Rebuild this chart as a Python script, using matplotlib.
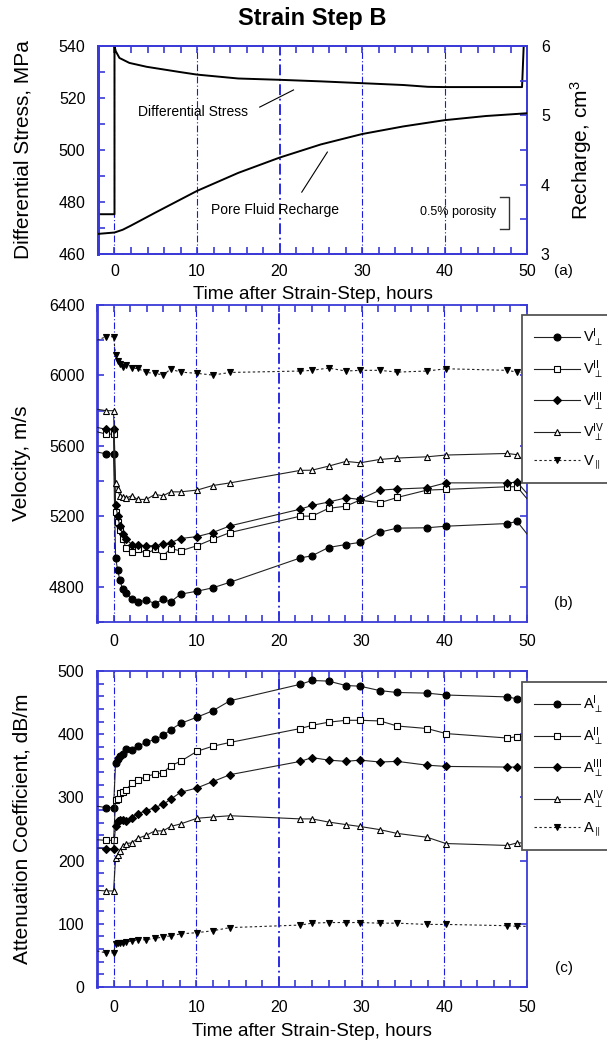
import matplotlib
matplotlib.use("Agg")
import matplotlib.pyplot as plt
from matplotlib.ticker import MultipleLocator, FixedLocator

plt.rcParams['font.family'] = ['Liberation Sans', 'DejaVu Sans']
plt.rcParams['mathtext.fontset'] = 'custom'
plt.rcParams['mathtext.rm'] = 'Liberation Sans'
plt.rcParams['mathtext.it'] = 'Liberation Sans:italic'
plt.rcParams['mathtext.sf'] = 'Liberation Sans'
plt.rcParams['mathtext.fallback'] = 'stixsans'

# ---------------- data ----------------
# (a) loading record
stress_hours = [-2, 0, 0, 0.15, 0.6, 1.8, 3.9, 7.9, 10, 15, 20, 25, 30, 35, 38, 40, 45, 49.4, 49.6]
stress_mpa = [475.3, 475.3, 540, 538, 535.4, 533.5, 532, 530, 529, 527.5, 527, 526.4,
              525.7, 525, 524.3, 524.2, 524.2, 524.2, 540]
recharge_hours = [-2, 0, 1, 2, 5, 10, 15, 20, 25, 30, 35, 40, 45, 50]
recharge_cm3 = [3.29, 3.31, 3.35, 3.41, 3.60, 3.91, 4.17, 4.39, 4.58, 4.73, 4.84, 4.93, 4.99, 5.03]

# sampling times for the ultrasonic measurements (first/last entries reach the frame edges)
hours = [-2, -0.9, 0, 0.25, 0.5, 0.75, 1.1, 1.5, 2.2, 2.9, 3.95, 5, 6, 6.9, 8.1, 10.1, 12,
         14.1, 22.6, 24, 26, 28.1, 29.8, 32.2, 34.3, 37.9, 40.2, 47.6, 48.8, 50]

# (b) velocities, m/s
v_perp_1 = [5565, 5555, 5555, 4964, 4894, 4841, 4785, 4762, 4730, 4712, 4724, 4705, 4728, 4714,
            4758, 4775, 4794, 4826, 4964, 4976, 5023, 5040, 5052, 5110, 5133, 5135, 5144, 5159,
            5171, 5100]
v_perp_2 = [5680, 5667, 5667, 5226, 5165, 5125, 5074, 5021, 4995, 5012, 4989, 5012, 4976, 5017,
            5004, 5033, 5070, 5108, 5201, 5201, 5245, 5258, 5292, 5277, 5307, 5349, 5353, 5368,
            5368, 5300]
v_perp_3 = [5705, 5694, 5694, 5264, 5203, 5144, 5097, 5072, 5040, 5036, 5033, 5033, 5042, 5050,
            5074, 5085, 5108, 5146, 5241, 5262, 5281, 5305, 5296, 5349, 5355, 5362, 5390, 5390,
            5394, 5330]
v_perp_4 = [5808, 5800, 5800, 5387, 5353, 5317, 5307, 5303, 5317, 5296, 5296, 5324, 5317, 5339,
            5339, 5349, 5375, 5390, 5461, 5462, 5485, 5512, 5504, 5523, 5531, 5538, 5548, 5557,
            5550, 5500]
v_par = [6200, 6220, 6220, 6116, 6082, 6065, 6046, 6059, 6040, 6040, 6017, 6012, 6002, 6036,
         6019, 6012, 6002, 6017, 6025, 6029, 6042, 6025, 6029, 6029, 6019, 6025, 6038, 6029,
         6019, 6015]

# (c) attenuation coefficients, dB/m
a_perp_1 = [286, 284, 284, 355, 361, 365, 368, 376, 375, 381, 387, 392, 398, 407, 417, 427, 437,
            453, 479, 485, 484, 477, 476, 469, 466, 465, 462, 459, 456, 455]
a_perp_2 = [233, 232, 232, 296, 297, 307, 309, 312, 322, 327, 333, 337, 339, 350, 357, 373, 381,
            387, 409, 414, 419, 422, 422, 421, 413, 409, 401, 394, 396, 396]
a_perp_3 = [220, 219, 219, 254, 262, 264, 265, 263, 268, 274, 279, 284, 289, 297, 308, 315, 325,
            336, 357, 363, 359, 357, 359, 356, 357, 351, 349, 348, 348, 348]
a_perp_4 = [153, 152, 152, 204, 209, 215, 223, 227, 228, 235, 240, 247, 247, 254, 258, 267, 269,
            271, 266, 266, 261, 257, 254, 249, 243, 237, 227, 224, 228, 228]
a_par = [57, 54, 54, 68, 69, 70, 70, 71, 73, 74, 75, 77, 79, 81, 84, 86, 89, 94, 98, 101, 102,
         102, 102, 101, 101, 99, 99, 97, 96, 96]

x_ticks = [0, 10, 20, 30, 40, 50]
guide_hours = [0, 10, 20, 30, 40]

v_labels = [r'$\mathregular{V}_{\perp}^{\mathregular{I}}$',
            r'$\mathregular{V}_{\perp}^{\mathregular{II}}$',
            r'$\mathregular{V}_{\perp}^{\mathregular{III}}$',
            r'$\mathregular{V}_{\perp}^{\mathregular{IV}}$',
            r'$\mathregular{V}_{\parallel}$']
a_labels = [r'$\mathregular{A}_{\perp}^{\mathregular{I}}$',
            r'$\mathregular{A}_{\perp}^{\mathregular{II}}$',
            r'$\mathregular{A}_{\perp}^{\mathregular{III}}$',
            r'$\mathregular{A}_{\perp}^{\mathregular{IV}}$',
            r'$\mathregular{A}_{\parallel}$']

# ---------------- styling ----------------
FRAME = '#3a3ad8'
GUIDE = '#1a1ae0'
W, H = 607, 1053

fig = plt.figure(figsize=(W / 100, H / 100), dpi=100)


def box(left, top, right, bottom):
    return [left / W, 1 - bottom / H, (right - left) / W, (bottom - top) / H]


def frame_style(ax, xpad):
    for s in ax.spines.values():
        s.set_color(FRAME)
        s.set_linewidth(1.3)
    ax.spines['left'].set_linewidth(2.0)
    ax.set_xlim(-2, 50)
    ax.xaxis.set_major_locator(FixedLocator(x_ticks))
    ax.xaxis.set_minor_locator(MultipleLocator(2))
    ax.tick_params(axis='both', which='both', direction='in', color=FRAME,
                   top=True, labelsize=11.5, width=1.2, length=5)
    ax.tick_params(axis='x', pad=xpad)
    ax.tick_params(axis='y', pad=9)
    for h in guide_hours:
        ax.axvline(h, color=GUIDE, lw=1.3 if h == 20 else 0.8,
                   ls=(0, (6, 2, 1, 2)), zorder=1)


# ---------------- (a) ----------------
ax_a = fig.add_axes(box(98, 46, 527, 254))
frame_style(ax_a, 7)
ax_a.tick_params(axis='y', right=False)
ax_a.set_ylim(460, 540)
ax_a.yaxis.set_major_locator(MultipleLocator(20))
ax_a.yaxis.set_minor_locator(MultipleLocator(10))
ax_a.plot(stress_hours, stress_mpa, color='black', lw=1.4, zorder=3)
ax_a.set_ylabel('Differential Stress, MPa', fontsize=15, va='center')
ax_a.yaxis.set_label_coords(-0.175, 0.5)
ax_a.set_xlabel('Time after Strain-Step, hours', fontsize=13.5, va='top')
ax_a.xaxis.set_label_coords(0.5, -0.155)
ax_a.set_title('Strain Step B', fontsize=17, fontweight='bold', pad=15)

ax_r = ax_a.twinx()
ax_r.set_ylim(3, 6)
ax_r.yaxis.set_major_locator(MultipleLocator(1))
ax_r.yaxis.set_minor_locator(MultipleLocator(0.5))
ax_r.tick_params(axis='y', which='both', direction='in', color=FRAME, length=5,
                 width=1.2, labelsize=11.5, pad=10)
for s in ax_r.spines.values():
    s.set_color(FRAME)
    s.set_linewidth(1.3)
ax_r.spines['left'].set_linewidth(2.0)
ax_r.plot(recharge_hours, recharge_cm3, color='black', lw=1.4, zorder=3)
ax_r.set_ylabel(r'Recharge, cm$^3$', fontsize=15, va='center', rotation=90)
ax_r.yaxis.set_label_coords(1.126, 0.5)

# porosity scale bar (in recharge units)
ax_r.plot([46.7, 47.8, 47.8, 46.7], [3.82, 3.82, 3.36, 3.36], color='#333333', lw=1.0)
ax_r.text(41.6, 3.60, '0.5% porosity', fontsize=9, ha='center', va='center')

ax_a.text(9.5, 514.6, 'Differential Stress', fontsize=10, ha='center', va='center')
ax_a.plot([17.6, 21.7], [516.5, 523.1], color='black', lw=0.8)
ax_a.text(19.4, 476.9, 'Pore Fluid Recharge', fontsize=10, ha='center', va='center')
ax_a.plot([22.7, 25.8], [483.8, 499.2], color='black', lw=0.8)
ax_a.text(1.085, -0.08, '(a)', transform=ax_a.transAxes, fontsize=11, ha='center', va='center')

# ---------------- (b), (c) ----------------
markers = [dict(marker='o', ms=5, mfc='black'),
           dict(marker='s', ms=4.5, mfc='white'),
           dict(marker='D', ms=3.6, mfc='black'),
           dict(marker='^', ms=4.8, mfc='white'),
           dict(marker='v', ms=5, mfc='black')]


def draw_series(ax, series, labels, legend_top):
    lines = []
    for i, (vals, lab) in enumerate(zip(series, labels)):
        ls = (0, (2.2, 2.2)) if i == 4 else '-'
        ln, = ax.plot(hours, vals, color='#222222', lw=0.8, ls=ls, mec='black', mew=0.8,
                      markevery=slice(1, len(hours) - 1), label=lab, zorder=3, **markers[i])
        lines.append(ln)
    leg = fig.legend(handles=lines, loc='upper left',
                     bbox_to_anchor=(522 / W, 1 - legend_top / H),
                     borderaxespad=0, fontsize=10.5, handlelength=3.15,
                     handletextpad=0.2, labelspacing=0.62, borderpad=0.8,
                     fancybox=False, framealpha=1)
    leg.get_frame().set_edgecolor('#555555')
    leg.get_frame().set_linewidth(1.3)
    return leg


ax_b = fig.add_axes(box(97, 305, 527, 622))
frame_style(ax_b, 9)
ax_b.tick_params(axis='y', right=True)
ax_b.set_ylim(4600, 6400)
ax_b.yaxis.set_major_locator(MultipleLocator(400))
ax_b.yaxis.set_minor_locator(MultipleLocator(200))
draw_series(ax_b, [v_perp_1, v_perp_2, v_perp_3, v_perp_4, v_par], v_labels, 315)
ax_b.set_ylabel('Velocity, m/s', fontsize=15, va='center')
ax_b.yaxis.set_label_coords(-0.175, 0.5)
ax_b.text(1.085, 0.06, '(b)', transform=ax_b.transAxes, fontsize=11, ha='center', va='center')

ax_c = fig.add_axes(box(97, 671, 527, 987))
frame_style(ax_c, 9)
ax_c.tick_params(axis='y', right=True)
ax_c.set_ylim(0, 500)
ax_c.yaxis.set_major_locator(MultipleLocator(100))
ax_c.yaxis.set_minor_locator(MultipleLocator(20))
draw_series(ax_c, [a_perp_1, a_perp_2, a_perp_3, a_perp_4, a_par], a_labels, 682)
ax_c.set_ylabel('Attenuation Coefficient, dB/m', fontsize=15, va='center')
ax_c.yaxis.set_label_coords(-0.175, 0.5)
ax_c.set_xlabel('Time after Strain-Step, hours', fontsize=13.5, va='top')
ax_c.xaxis.set_label_coords(0.5, -0.115)
ax_c.text(1.085, 0.06, '(c)', transform=ax_c.transAxes, fontsize=11, ha='center', va='center')

fig.savefig('out.png', dpi=100)
